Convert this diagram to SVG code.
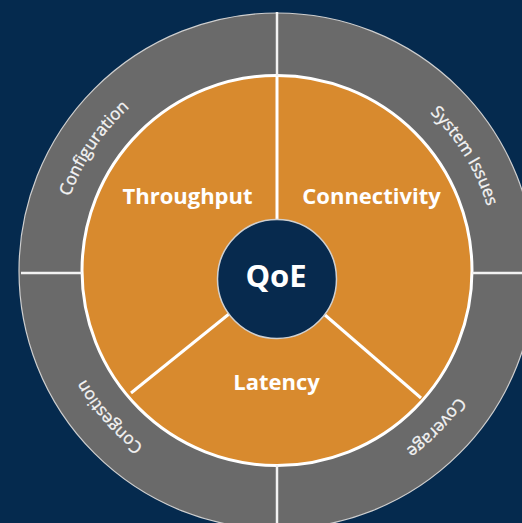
<svg xmlns="http://www.w3.org/2000/svg" xmlns:xlink="http://www.w3.org/1999/xlink" width="522" height="523" viewBox="0 0 522 523">
  <defs>
    <style>
      .bg { fill: #052a4e; }
      .ring { fill: #6a6a6a; stroke: #cfcfcf; stroke-width: 1.2; }
      .core { fill: #d88a2e; stroke: #ffffff; stroke-width: 3; }
      .hub { fill: #072a4e; stroke: #d0d0d0; stroke-width: 1.5; }
      .div { stroke: #ffffff; stroke-width: 3; fill: none; }
      .div-ring { stroke: #f2f2f2; stroke-width: 2.5; fill: none; }
      .seg { font-family: "Open Sans", "Liberation Sans", sans-serif; font-weight: 700; font-size: 22px; fill: #ffffff; text-anchor: middle; }
      .hub-label { font-family: "Open Sans", "Liberation Sans", sans-serif; font-weight: 700; font-size: 31px; fill: #ffffff; text-anchor: middle; }
      .ring-label { font-family: "Open Sans", "Liberation Sans", sans-serif; font-size: 17px; fill: #f4f4f4; stroke: #f4f4f4; stroke-width: 0.3; text-anchor: middle; }
    </style>
    <!-- clockwise circle used as a baseline for the outer ring labels -->
    <path id="ringPath" d="M 497,271 A 220 220 0 1 1 57,271 A 220 220 0 1 1 497,271"/>
  </defs>

  <rect class="bg" x="0" y="0" width="522" height="523"/>

  <!-- outer ring -->
  <g id="outer-ring">
    <circle class="ring" cx="277" cy="271" r="258"/>
  </g>

  <!-- inner disc -->
  <g id="inner-disc">
    <circle class="core" cx="277" cy="270.5" r="195"/>
  </g>

  <!-- divider lines -->
  <g id="connectors">
    <line class="div-ring" x1="277" y1="12" x2="277" y2="76"/>
    <line class="div-ring" x1="277" y1="465" x2="277" y2="523"/>
    <line class="div-ring" x1="21" y1="273" x2="82" y2="273"/>
    <line class="div-ring" x1="472" y1="273" x2="522" y2="273"/>
    <line class="div" x1="277" y1="76" x2="277" y2="220"/>
    <line class="div" x1="229" y1="314" x2="131" y2="393"/>
    <line class="div" x1="325" y1="315" x2="421" y2="398"/>
  </g>

  <g id="throughput">
    <text class="seg" x="187.5" y="204">Throughput</text>
  </g>
  <g id="connectivity">
    <text class="seg" x="371.5" y="204">Connectivity</text>
  </g>
  <g id="latency">
    <text class="seg" x="276.5" y="390">Latency</text>
  </g>

  <g id="qoe">
    <circle class="hub" cx="277" cy="279" r="59.5"/>
    <text class="hub-label" x="276" y="287">QoE</text>
  </g>

  <g id="configuration">
    <text class="ring-label"><textPath xlink:href="#ringPath" href="#ringPath" startOffset="59.4%">Configuration</textPath></text>
  </g>
  <g id="system-issues">
    <text class="ring-label"><textPath xlink:href="#ringPath" href="#ringPath" startOffset="91.25%">System Issues</textPath></text>
  </g>
  <g id="coverage">
    <text class="ring-label"><textPath xlink:href="#ringPath" href="#ringPath" startOffset="12.36%">Coverage</textPath></text>
  </g>
  <g id="congestion">
    <text class="ring-label"><textPath xlink:href="#ringPath" href="#ringPath" startOffset="38.6%">Congestion</textPath></text>
  </g>
</svg>
